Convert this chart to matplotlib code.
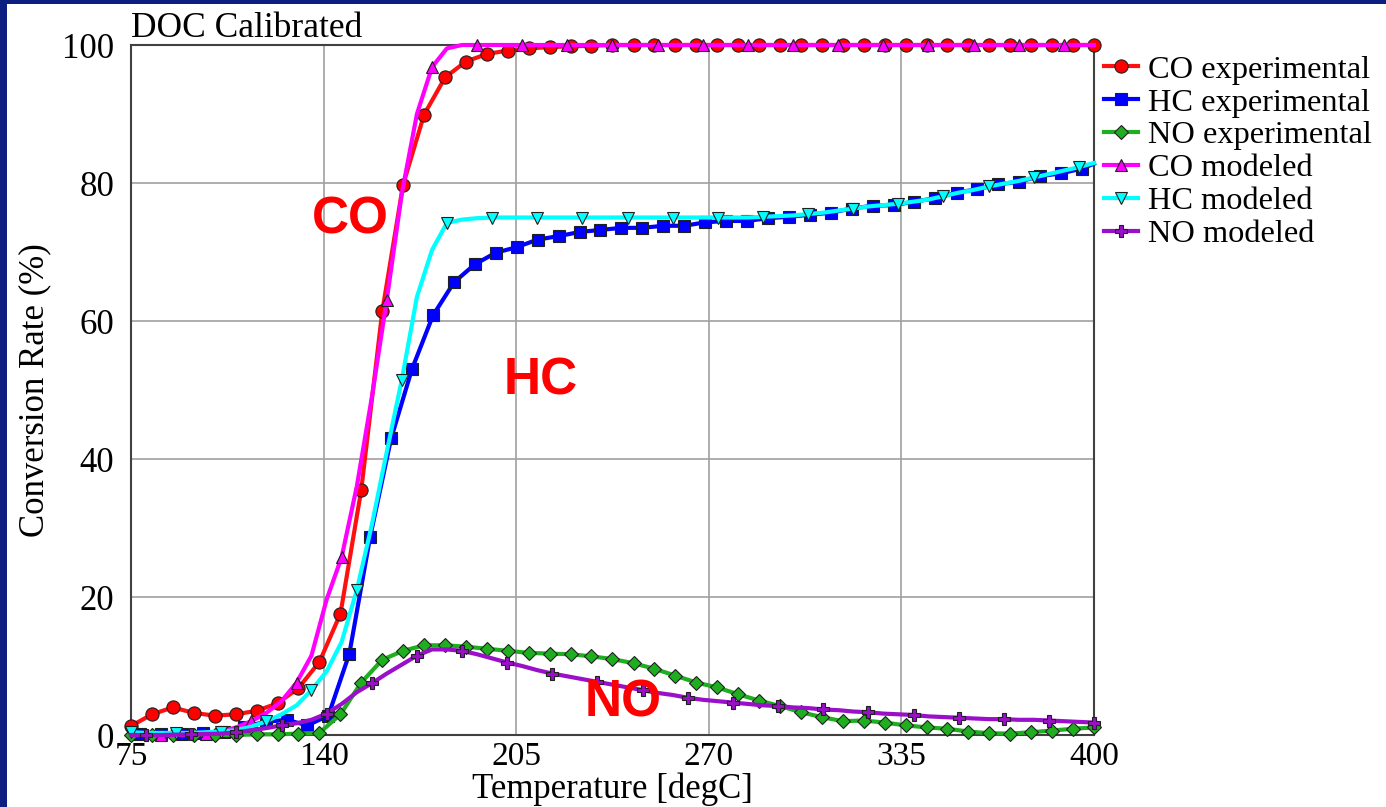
import numpy as np
import matplotlib
matplotlib.use("Agg")
from matplotlib import pyplot as plt
from matplotlib.patches import Rectangle

# temperature grids (degC)
t_exp = [75.0, 82.1, 89.1, 96.2, 103.3, 110.3, 117.4, 124.5, 131.5, 138.6, 145.7, 152.7,
         159.8, 166.8, 173.9, 181.0, 188.0, 195.1, 202.2, 209.2, 216.3, 223.4, 230.4, 237.5,
         244.6, 251.6, 258.7, 265.8, 272.8, 279.9, 286.9, 294.0, 301.1, 308.1, 315.2, 322.3,
         329.3, 336.4, 343.5, 350.5, 357.6, 364.7, 371.7, 378.8, 385.9, 392.9, 400.0]
t_hc_exp = [75.0, 78.0, 85.1, 92.1, 99.2, 106.3, 113.3, 120.4, 127.5, 134.5, 141.6, 148.7,
            155.7, 162.8, 169.8, 176.9, 184.0, 191.0, 198.1, 205.2, 212.2, 219.3, 226.4,
            233.4, 240.5, 247.6, 254.6, 261.7, 268.8, 275.8, 282.9, 290.0, 297.0, 304.1,
            311.2, 318.2, 325.3, 332.4, 339.4, 346.5, 353.6, 360.6, 367.7, 374.8, 381.8,
            388.9, 396.0, 400.0]
t_mod = [75.0, 80.1, 85.2, 90.2, 95.3, 100.4, 105.5, 110.5, 115.6, 120.7, 125.8, 130.9,
         135.9, 141.0, 146.1, 151.2, 156.3, 161.3, 166.4, 171.5, 176.6, 181.6, 186.7, 191.8,
         196.9, 202.0, 207.0, 212.1, 217.2, 222.3, 227.3, 232.4, 237.5, 242.6, 247.7, 252.7,
         257.8, 262.9, 268.0, 273.0, 278.1, 283.2, 288.3, 293.4, 298.4, 303.5, 308.6, 313.7,
         318.8, 323.8, 328.9, 334.0, 339.1, 344.1, 349.2, 354.3, 359.4, 364.5, 369.5, 374.6,
         379.7, 384.8, 389.8, 394.9, 400.0]

# conversion rates (%)
co_exp = [1.3, 3.0, 4.0, 3.2, 2.8, 3.0, 3.5, 4.6, 6.8, 10.6, 17.6, 35.5,
          61.4, 79.7, 89.9, 95.3, 97.6, 98.7, 99.2, 99.5, 99.7, 99.8, 99.9, 100,
          100, 100, 100, 100, 100, 100, 100, 100, 100, 100, 100, 100,
          100, 100, 100, 100, 100, 100, 100, 100, 100, 100, 100]
hc_exp = [0.2, 0.2, 0.2, 0.2, 0.3, 0.5, 1.2, 1.9, 2.2, 1.4, 2.8, 11.8,
          28.7, 43.0, 53.0, 60.8, 65.6, 68.2, 69.9, 70.7, 71.8, 72.3, 72.9,
          73.2, 73.5, 73.5, 73.8, 73.8, 74.3, 74.5, 74.5, 74.9, 75.1, 75.4,
          75.7, 76.3, 76.7, 76.8, 77.3, 77.8, 78.6, 79.1, 79.8, 80.2, 81.0,
          81.4, 82.1, 82.8]
no_exp = [0.0, 0.0, 0.0, 0.0, 0.0, 0.0, 0.1, 0.1, 0.2, 0.3, 3.0, 7.6,
          10.9, 12.2, 13.0, 13.0, 12.8, 12.5, 12.2, 11.9, 11.8, 11.7, 11.4, 11.0,
          10.4, 9.6, 8.6, 7.6, 6.9, 5.9, 5.0, 4.2, 3.3, 2.6, 2.0, 2.1,
          1.8, 1.4, 1.1, 0.9, 0.5, 0.25, 0.2, 0.4, 0.65, 0.9, 1.1]
co_mod = [0, 0, 0, 0, 0.05, 0.2, 0.5, 1.1, 2.0, 3.2, 4.9, 7.6,
          11.5, 19.6, 25.8, 36.0, 49.0, 63.0, 78.5, 90.0, 96.8, 99.5, 100, 100,
          100, 100, 100, 100, 100, 100, 100, 100, 100, 100, 100, 100,
          100, 100, 100, 100, 100, 100, 100, 100, 100, 100, 100, 100,
          100, 100, 100, 100, 100, 100, 100, 100, 100, 100, 100, 100,
          100, 100, 100, 100, 100]
hc_mod = [0.4, 0.3, 0.3, 0.3, 0.3, 0.4, 0.5, 0.7, 1.2, 2.0, 3.0, 4.3,
          6.5, 9.2, 13.5, 21.0, 30.5, 41.0, 51.5, 63.5, 70.3, 74.2, 74.7, 74.9,
          75.0, 75.0, 75.0, 75.0, 75.0, 75.0, 75.0, 75.0, 75.0, 75.0, 75.0, 75.0,
          75.0, 75.0, 75.0, 75.0, 75.0, 75.0, 75.1, 75.2, 75.3, 75.5, 75.7, 76.0,
          76.3, 76.6, 76.8, 77.0, 77.3, 77.6, 78.1, 78.6, 79.0, 79.5, 79.9, 80.3,
          80.8, 81.3, 81.8, 82.3, 82.9]
no_mod = [0.0, 0.0, 0.0, 0.05, 0.1, 0.15, 0.2, 0.4, 0.7, 1.0, 1.4, 1.7,
          2.2, 3.1, 4.5, 6.2, 7.5, 8.9, 10.2, 11.5, 12.4, 12.4, 12.2, 11.7,
          11.1, 10.5, 10.0, 9.4, 8.9, 8.5, 8.1, 7.7, 7.3, 6.9, 6.5, 6.1,
          5.8, 5.4, 5.1, 4.9, 4.7, 4.5, 4.3, 4.2, 4.0, 3.9, 3.7, 3.6,
          3.4, 3.3, 3.1, 3.0, 2.9, 2.7, 2.6, 2.5, 2.4, 2.3, 2.3, 2.2,
          2.2, 2.1, 2.0, 1.9, 1.8]

xticks = [75, 140, 205, 270, 335, 400]
yticks = [0, 20, 40, 60, 80, 100]

plt.rcParams['font.family'] = ['Liberation Serif', 'DejaVu Serif']

W, H = 1386, 807
fig = plt.figure(figsize=(W / 100, H / 100), dpi=100)
fig.patch.set_facecolor('#0c1f80')
fig.patches.append(Rectangle((7 / W, 0), 1, 1 - 4 / H, transform=fig.transFigure,
                             facecolor='white', edgecolor='none', zorder=-10))

ax = fig.add_axes([131 / W, 1 - 735 / H, 963 / W, 690 / H])

lw = 3
ax.plot(t_exp, co_exp, color='#ff1010', lw=lw, marker='o', ms=9.5, mfc='#ff0000',
        mec='#202020', mew=0.8, label='CO experimental', clip_on=False, zorder=3)
ax.plot(t_hc_exp, hc_exp, color='#0000ff', lw=lw, marker='s', ms=8.5, mfc='#0000ff',
        mec='#202020', mew=0.8, markevery=slice(1, -1), label='HC experimental',
        clip_on=False, zorder=3)
ax.plot(t_exp, no_exp, color='#1fae1f', lw=lw, marker='D', ms=7, mfc='#1fae1f',
        mec='#202020', mew=0.8, label='NO experimental', clip_on=False, zorder=3)
ax.plot(t_mod, co_mod, color='#ff00ff', lw=lw, marker='^', ms=9, mfc='#ff00ff',
        mec='#202020', mew=0.8, markevery=(2, 3), label='CO modeled', clip_on=False, zorder=4)
ax.plot(t_mod, hc_mod, color='#00ffff', lw=lw, marker='v', ms=9, mfc='#00ffff',
        mec='#202020', mew=0.8, markevery=(0, 3), label='HC modeled', clip_on=False, zorder=4)
ax.plot(t_mod, no_mod, color='#9a10c8', lw=lw, marker='P', ms=9, mfc='#9a10c8',
        mec='#202020', mew=0.8, markevery=(1, 3), label='NO modeled', clip_on=False, zorder=4)

ax.set_xlim(75, 400)
ax.set_ylim(0, 100)
ax.set_xticks(xticks)
ax.set_yticks(yticks)
ax.tick_params(axis='x', length=0, labelsize=24, colors='black', pad=5)
ax.tick_params(axis='y', length=0, labelsize=25, colors='black', pad=12)
ax.grid(True, color='#a0a0a0', lw=1.2)
ax.set_axisbelow(True)
for s in ax.spines.values():
    s.set_color('#404040')
    s.set_linewidth(1.5)

ax.set_title('DOC Calibrated', loc='left', fontsize=25.5, pad=5)
ax.set_xlabel('Temperature [degC]', fontsize=25, labelpad=0)
ax.set_ylabel('Conversion Rate (%)', fontsize=25, labelpad=8)

for txt, x, y in [('CO', 148.9, 74.6), ('HC', 213.4, 51.3), ('NO', 241.0, 4.7)]:
    ax.text(x, y, txt, color='#ff0000', fontsize=37, fontweight='bold',
            family='Liberation Sans', ha='center', va='center', zorder=6)

ax.legend(loc='upper left', bbox_to_anchor=(1104 / W, 1 - 55 / H),
          bbox_transform=fig.transFigure, frameon=False, fontsize=23.3,
          handlelength=1.05, handletextpad=0.3, labelspacing=0.1, borderpad=0,
          borderaxespad=0)

fig.savefig('out.png', dpi=100, facecolor=fig.get_facecolor())
